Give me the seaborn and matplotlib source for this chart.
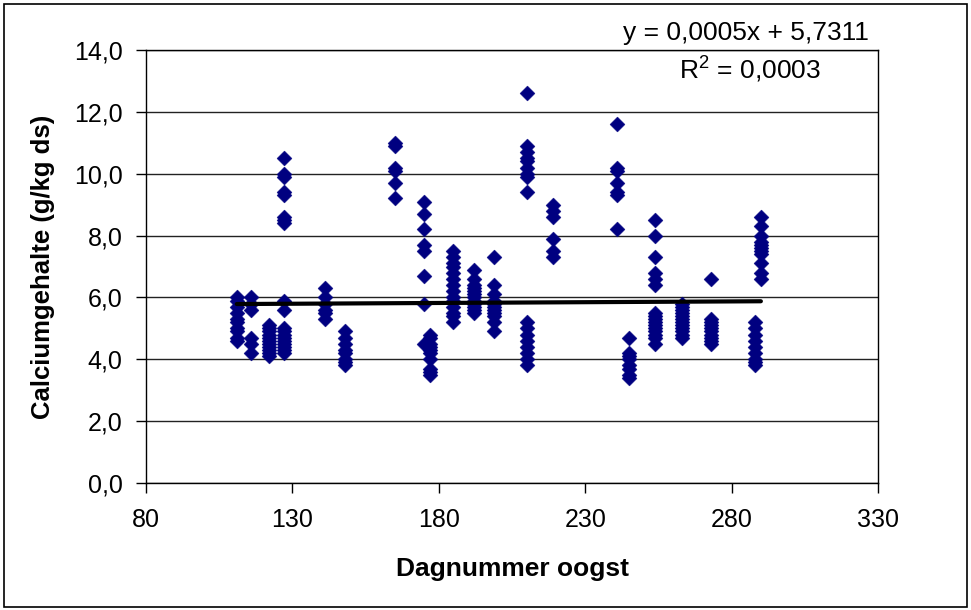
import matplotlib
matplotlib.use("Agg")
import matplotlib.pyplot as plt
import seaborn as sns
import pandas as pd
import numpy as np
from matplotlib.patches import Rectangle
from matplotlib.ticker import FuncFormatter

# ---- data ----
days = [111, 116, 122, 127, 141, 148, 165, 175, 177, 185, 192, 199,
        210, 219, 241, 245, 254, 263, 273, 290, 288]
ca_values = [
    [6.0, 5.9, 5.7, 5.5, 5.3, 5.2, 5.0, 4.9, 4.7, 4.6],
    [6.0, 5.8, 5.6, 4.7, 4.5, 4.2],
    [5.1, 5.0, 4.9, 4.8, 4.7, 4.6, 4.5, 4.4, 4.3, 4.2, 4.1],
    [10.5, 10.0, 9.9, 9.4, 9.3, 8.6, 8.5, 8.4, 5.9, 5.6, 5.0, 4.9, 4.8,
     4.7, 4.6, 4.5, 4.4, 4.3, 4.2],
    [6.3, 6.0, 5.8, 5.6, 5.5, 5.3],
    [4.9, 4.7, 4.5, 4.3, 4.2, 4.0, 3.9, 3.8],
    [11.0, 10.9, 10.2, 10.1, 9.7, 9.2],
    [9.1, 8.7, 8.2, 7.7, 7.5, 6.7, 5.8, 4.5],
    [4.8, 4.7, 4.5, 4.4, 4.3, 4.2, 4.0, 3.7, 3.6, 3.5],
    [7.5, 7.3, 7.1, 7.0, 6.8, 6.6, 6.4, 6.2, 6.0, 5.9, 5.7, 5.5, 5.4, 5.2],
    [6.9, 6.6, 6.4, 6.3, 6.2, 6.1, 6.0, 5.9, 5.8, 5.7, 5.6, 5.5],
    [7.3, 6.4, 6.1, 5.9, 5.8, 5.7, 5.6, 5.5, 5.4, 5.2, 4.9],
    [12.6, 10.9, 10.7, 10.5, 10.4, 10.2, 10.0, 9.9, 9.4, 5.2, 5.0, 4.8,
     4.6, 4.4, 4.2, 4.0, 3.8],
    [9.0, 8.8, 8.6, 7.9, 7.5, 7.3],
    [11.6, 10.2, 10.1, 9.7, 9.4, 9.3, 8.2],
    [4.7, 4.2, 4.1, 4.0, 3.8, 3.7, 3.5, 3.4],
    [8.5, 8.0, 7.3, 6.8, 6.6, 6.4, 5.5, 5.4, 5.3, 5.2, 5.1, 5.0, 4.9, 4.8,
     4.7, 4.5],
    [5.8, 5.7, 5.6, 5.5, 5.4, 5.3, 5.2, 5.1, 5.0, 4.9, 4.8, 4.7],
    [6.6, 5.3, 5.2, 5.1, 5.0, 4.9, 4.8, 4.7, 4.6, 4.5],
    [8.6, 8.3, 8.0, 7.8, 7.7, 7.6, 7.5, 7.4, 7.1, 6.8, 6.6],
    [5.2, 5.0, 4.8, 4.6, 4.4, 4.2, 4.0, 3.9, 3.8],
]
trend_slope = 0.0005
trend_intercept = 5.7311
eq_text = "y = 0,0005x + 5,7311"
r2_text = "R$^2$ = 0,0003"
x_ticks = [80, 130, 180, 230, 280, 330]
y_ticks = [0, 2, 4, 6, 8, 10, 12, 14]
x_label = "Dagnummer oogst"
y_label = "Calciumgehalte (g/kg ds)"

# ---- build table ----
rows = []
for d, vals in zip(days, ca_values):
    for v in vals:
        rows.append({"dag": d, "ca": v})
df = pd.DataFrame(rows)
xmin, xmax = df["dag"].min(), df["dag"].max()
trend = pd.DataFrame({"dag": [xmin, xmax]})
trend["ca"] = trend_slope * trend["dag"] + trend_intercept

# ---- style ----
sns.set_theme(style="white")
plt.rcParams["font.family"] = ["Liberation Sans", "DejaVu Sans"]
plt.rcParams["mathtext.fontset"] = "custom"
plt.rcParams["mathtext.rm"] = "Liberation Sans"
plt.rcParams["text.color"] = "black"
plt.rcParams["axes.labelcolor"] = "black"
plt.rcParams["xtick.color"] = "black"
plt.rcParams["ytick.color"] = "black"

W, H = 971, 610
fig = plt.figure(figsize=(W / 100, H / 100), dpi=100)
ax = fig.add_axes([146 / W, 1 - 483 / H, (878 - 146) / W, (483 - 50) / H])

for yt in y_ticks:
    ax.axhline(yt, color="#222222", lw=1.0, zorder=0)

sns.scatterplot(data=df, x="dag", y="ca", ax=ax, marker="D", s=58,
                color="#000080", edgecolor="#000080", linewidth=0.3,
                zorder=3, legend=False)
sns.lineplot(data=trend, x="dag", y="ca", ax=ax, color="black", lw=3.0,
             zorder=4, legend=False)

ax.set_xlim(80, 330)
ax.set_ylim(0, 14)
ax.set_xticks(x_ticks)
ax.set_yticks(y_ticks)
ax.yaxis.set_major_formatter(FuncFormatter(lambda v, p: f"{v:.1f}".replace(".", ",")))
ax.tick_params(axis="both", direction="out", length=7, width=1, color="black",
               labelsize=18, labelcolor="black", bottom=True, left=True)
ax.tick_params(axis="x", pad=11)
ax.tick_params(axis="y", pad=10)
for sp in ax.spines.values():
    sp.set_visible(True)
    sp.set_color("black")
    sp.set_linewidth(1.0)

ax.set_xlabel(x_label, fontsize=19, fontweight="bold", color="black")
ax.set_ylabel(y_label, fontsize=18.5, fontweight="bold", color="black")
ax.xaxis.set_label_coords(0.5, -0.17)
ax.yaxis.set_label_coords(-0.124, 0.5)

fig.text(746 / W, 1 - 33 / H, eq_text, fontsize=19, ha="center", va="center",
         color="black")
fig.text(750 / W, 1 - 69 / H, r2_text, fontsize=19, ha="center", va="center",
         color="black")

fig.patches.append(Rectangle((4 / W, 3 / H), (967 - 4) / W, (606 - 3) / H,
                             transform=fig.transFigure, fill=False,
                             edgecolor="black", lw=1.2))

fig.savefig("out.png", dpi=100, facecolor="white")
